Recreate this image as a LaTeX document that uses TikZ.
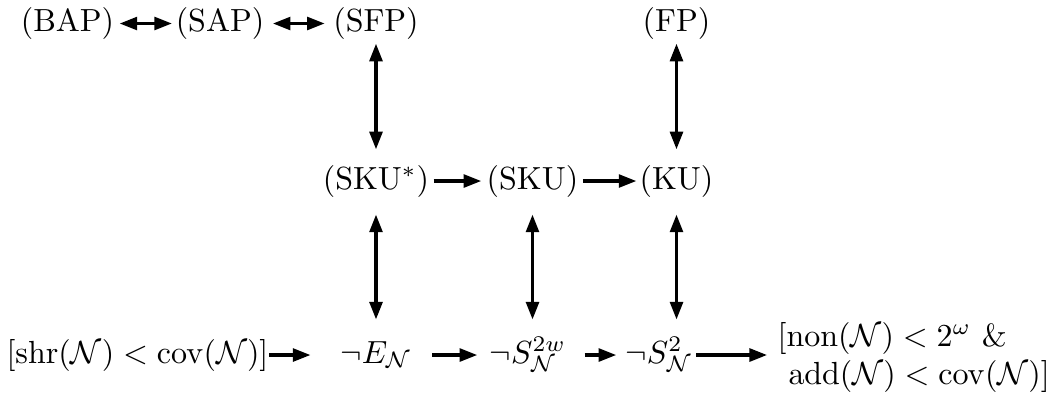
\documentclass[tikz,border=0pt]{standalone}
\usepackage{amsmath,amssymb}
\usetikzlibrary{arrows.meta}
\begin{document}
\begin{tikzpicture}[x=0.3125pt,y=-0.3125pt,
  lbl/.style={inner sep=0pt, text height=7.5pt, text depth=2.5pt},
  arr/.style={line width=1pt, -{Triangle[length=5.5pt,width=4pt]}},
  darr/.style={line width=1pt, {Triangle[length=5.5pt,width=4pt]}-{Triangle[length=5.5pt,width=4pt]}}]
\useasboundingbox (0,0) rectangle (1048,394);
% row 1
\node[lbl] (BAP) at (67.5,23.5) {(BAP)};
\node[lbl] (SAP) at (220,23.5) {(SAP)};
\node[lbl] (SFP) at (376,23.5) {(SFP)};
\node[lbl] (FP) at (676.5,23.5) {(FP)};
% row 2
\node[lbl] (SKUs) at (376,181) {(SKU$^*$)};
\node[lbl] (SKU) at (532.5,181) {(SKU)};
\node[lbl] (KU) at (676.5,181) {(KU)};
% row 3
\node[lbl] (shr) at (137.5,355) {$[\mathrm{shr}(\mathcal{N})<\mathrm{cov}(\mathcal{N})]$};
\node[lbl] (E) at (376,355) {$\neg E_{\mathcal{N}}$};
\node[lbl] (S2w) at (528,355) {$\neg S^{2w}_{\mathcal{N}}$};
\node[lbl] (S2) at (659,355) {$\neg S^{2}_{\mathcal{N}}$};
\node[inner sep=0pt, align=left, anchor=west] (br) at (777,357.5)
  {$[\mathrm{non}(\mathcal{N})<2^\omega$ \&\\ \ $\mathrm{add}(\mathcal{N})<\mathrm{cov}(\mathcal{N})]$};
% horizontal arrows
\draw[darr, shorten <=1.5pt, shorten >=1pt] (BAP) -- (SAP);
\draw[darr, shorten <=2.5pt, shorten >=2.5pt] (SAP) -- (SFP);
\draw[arr, shorten <=1.2pt, shorten >=1.5pt] (SKUs) -- (SKU);
\draw[arr, shorten <=1.2pt, shorten >=0.8pt] (SKU) -- (KU);
\draw[arr, shorten >=9.2pt] (shr) -- (E);
\draw[arr, shorten <=6.3pt, shorten >=3.75pt] (E) -- (S2w);
\draw[arr, shorten <=5.6pt, shorten >=2.7pt] (S2w) -- (S2);
\draw[arr, shorten <=1pt, shorten >=3.1pt] (S2) -- (S2 -| br.west);
% vertical arrows
\draw[darr, shorten <=1.1pt, shorten >=4.7pt] (SFP) -- (SKUs);
\draw[darr, shorten <=1.1pt, shorten >=4.7pt] (FP) -- (KU);
\draw[darr, shorten <=5.3pt, shorten >=5.9pt] (SKUs) -- (E);
\draw[darr, shorten <=5.3pt, shorten >=5.9pt] (SKU.south) -- (SKU.south |- S2w.north);
\draw[darr, shorten <=5.3pt, shorten >=5.9pt] (KU.south) -- (KU.south |- S2.north);
\end{tikzpicture}
\end{document}
